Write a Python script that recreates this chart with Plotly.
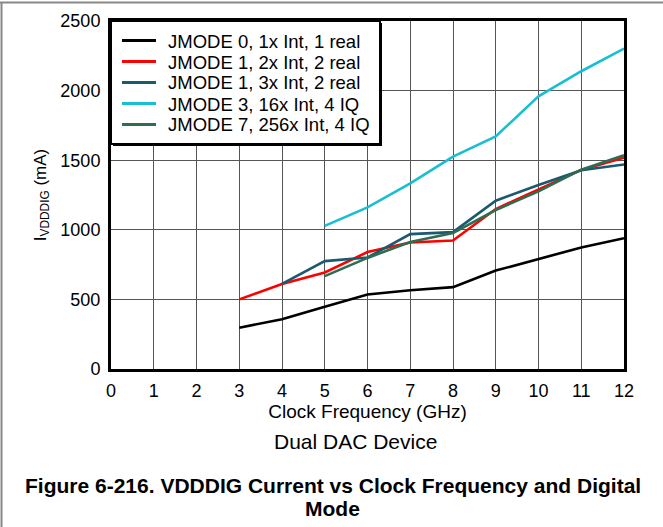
import plotly.graph_objects as go

freq_ghz = [3, 4, 5, 6, 7, 8, 9, 10, 11, 12]

series_names = [
    "JMODE 0, 1x Int, 1 real",
    "JMODE 1, 2x Int, 2 real",
    "JMODE 1, 3x Int, 2 real",
    "JMODE 3, 16x Int, 4 IQ",
    "JMODE 7, 256x Int, 4 IQ",
]
jmode0_1x = [297, 357, 448, 535, 566, 588, 707, 789, 873, 940]
jmode1_2x = [500, 611, 693, 840, 909, 923, 1149, 1290, 1430, 1518]
jmode1_3x = [None, 611, 775, 801, 969, 983, 1209, 1322, 1428, 1469]
jmode3_16x = [None, None, 1028, 1161, 1334, 1526, 1671, 1959, 2139, 2302]
jmode7_256x = [None, None, 667, 798, 913, 976, 1142, 1276, 1432, 1535]

series_values = [jmode0_1x, jmode1_2x, jmode1_3x, jmode3_16x, jmode7_256x]
series_colors = ["#000000", "#ff0000", "#1b5a6e", "#17bfd2", "#2d6e50"]

x_ticks = list(range(0, 13))
y_ticks = [0, 500, 1000, 1500, 2000, 2500]

FONT = "Liberation Sans, Arial, sans-serif"

fig = go.Figure()
for name, vals, col in zip(series_names, series_values, series_colors):
    fig.add_trace(go.Scatter(
        x=freq_ghz, y=vals, name=name, mode="lines",
        line=dict(color=col, width=2.6), connectgaps=False, showlegend=False,
    ))

# plot area in page pixels: x 111..624, y 21..369
L, R, T, B = 111, 624, 21, 369
W, H = 663, 527
pw, ph = float(R - L), float(B - T)
def px(xp):
    return (xp - L) / pw
def py(yp):
    return (B - yp) / ph

fig.update_layout(
    width=W, height=H,
    margin=dict(l=L, r=W - R, t=T, b=H - B, pad=0),
    paper_bgcolor="white", plot_bgcolor="white",
    font=dict(family=FONT, size=18, color="#000000"),
    showlegend=False,
    xaxis=dict(
        range=[0, 12], tickmode="array", tickvals=x_ticks,
        ticktext=[str(v) for v in x_ticks],
        showgrid=True, gridcolor="#555555", gridwidth=1,
        showline=True, linecolor="black", linewidth=3, mirror=True,
        ticks="", zeroline=False, ticklabelstandoff=3,
        tickfont=dict(family=FONT, size=18),
        title=dict(text="Clock Frequency (GHz)", font=dict(family=FONT, size=19), standoff=2),
    ),
    yaxis=dict(
        range=[0, 2500], tickmode="array", tickvals=y_ticks,
        ticktext=[str(v) for v in y_ticks],
        showgrid=True, gridcolor="#555555", gridwidth=1,
        showline=True, linecolor="black", linewidth=3, mirror=True,
        ticks="", zeroline=False, ticklabelstandoff=4,
        tickfont=dict(family=FONT, size=18),
        title=dict(text="I<sub>VDDDIG</sub> (mA)", font=dict(family=FONT, size=17), standoff=10),
    ),
)

# legend box (drawn with shapes + real text annotations)
leg_x0, leg_x1, leg_y0, leg_y1 = 111, 380, 21, 144
fig.add_shape(type="rect", xref="paper", yref="paper", layer="above",
              x0=px(leg_x0 + 2), x1=px(leg_x1 + 2), y0=py(leg_y0 + 2), y1=py(leg_y1 + 2),
              fillcolor="black", line=dict(color="black", width=0))
fig.add_shape(type="rect", xref="paper", yref="paper", layer="above",
              x0=px(leg_x0), x1=px(leg_x1), y0=py(leg_y0), y1=py(leg_y1),
              fillcolor="white", line=dict(color="black", width=2))
row_y = [40.5, 61.5, 82.5, 103.5, 124.5]
for name, col, ry in zip(series_names, series_colors, row_y):
    fig.add_shape(type="line", xref="paper", yref="paper", layer="above",
                  x0=px(122), x1=px(156), y0=py(ry), y1=py(ry),
                  line=dict(color=col, width=3))
    fig.add_annotation(text=name, x=px(166), y=py(ry + 0.5), xref="paper", yref="paper",
                       showarrow=False, xanchor="left", yanchor="middle",
                       font=dict(family=FONT, size=18.5, color="black"))

fig.add_annotation(text="Dual DAC Device", x=px(355), y=py(441), xref="paper", yref="paper",
                   showarrow=False, font=dict(family=FONT, size=21), xanchor="center", yanchor="middle")
fig.add_annotation(text="<b>Figure 6-216. VDDDIG Current vs Clock Frequency and Digital</b>",
                   x=px(332.5), y=py(485), xref="paper", yref="paper", showarrow=False,
                   font=dict(family=FONT, size=21), xanchor="center", yanchor="middle")
fig.add_annotation(text="<b>Mode</b>", x=px(332.5), y=py(508), xref="paper", yref="paper", showarrow=False,
                   font=dict(family=FONT, size=21), xanchor="center", yanchor="middle")

# outer frame lines (top and left)
fig.add_shape(type="line", xref="paper", yref="paper", x0=px(0), x1=px(663), y0=py(2.5), y1=py(2.5),
              line=dict(color="#888888", width=2))
fig.add_shape(type="line", xref="paper", yref="paper", x0=px(1.5), x1=px(1.5), y0=py(2.5), y1=py(527),
              line=dict(color="#888888", width=2))

fig.write_html("out.html", config={"displayModeBar": False},
               post_script="document.body.style.margin='0px';")
